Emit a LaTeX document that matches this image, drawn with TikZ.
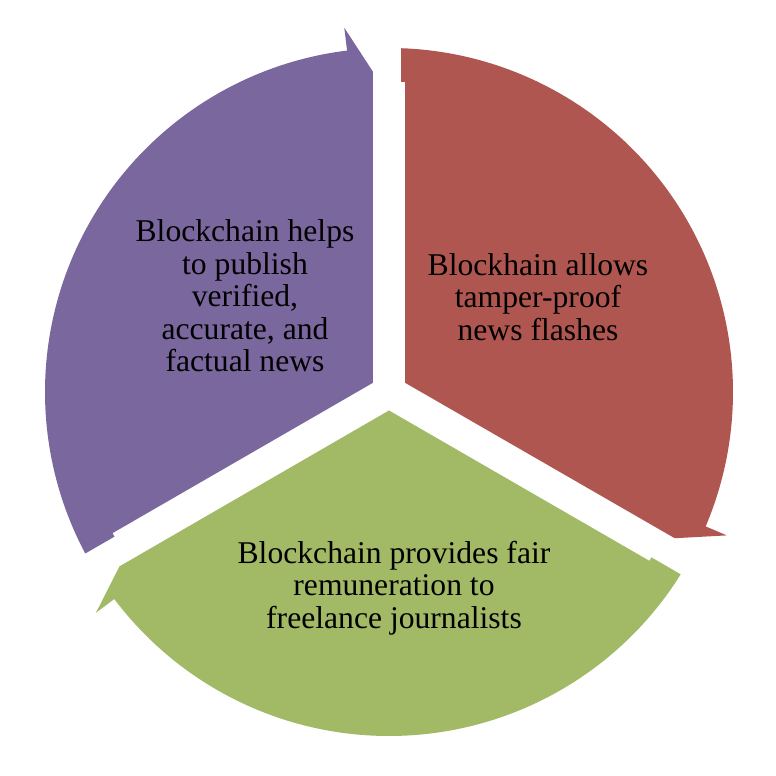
\documentclass[tikz,border=0pt]{standalone}
\usepackage{fontspec}
\setmainfont{Liberation Serif}
\definecolor{segpurple}{RGB}{122,103,158}
\definecolor{segred}{RGB}{176,86,80}
\definecolor{seggreen}{RGB}{162,185,101}
\tikzset{
  seglabel/.style={align=center, text=black, font=\fontsize{9}{9.25}\selectfont},
}
\begin{document}
\begin{tikzpicture}
\useasboundingbox (0,0) rectangle (7.76,7.76);
% three segments of the cycle, tail notch first, arrow head last
\fill[segpurple, shift={(3.89,3.84)}, rotate=210] (0.0925,-0.16) -- (3.10,-0.16) -- (3.10,-0.12) -- (-2:3.44) arc[start angle=-2, end angle=-113, radius=3.44] -- (-113:3.67) -- (-117.1:3.21) -- cycle;
\fill[segred, shift={(3.89,3.84)}, rotate=90] (0.0925,-0.16) -- (3.10,-0.16) -- (3.10,-0.12) -- (-2:3.44) arc[start angle=-2, end angle=-113, radius=3.44] -- (-113:3.67) -- (-117.1:3.21) -- cycle;
\fill[seggreen, shift={(3.89,3.84)}, rotate=330] (0.0925,-0.16) -- (3.10,-0.16) -- (3.10,-0.12) -- (-2:3.44) arc[start angle=-2, end angle=-113, radius=3.44] -- (-113:3.67) -- (-117.1:3.21) -- cycle;
% labels
\node[seglabel] (helps) at (2.45,4.80) {Blockchain helps\\to publish\\verified,\\accurate, and\\factual news};
\node[seglabel] (allows) at (5.38,4.79) {Blockhain allows\\tamper-proof\\news flashes};
\node[seglabel] (provides) at (3.94,1.88) {Blockchain provides fair\\remuneration to\\freelance journalists};
\end{tikzpicture}
\end{document}
